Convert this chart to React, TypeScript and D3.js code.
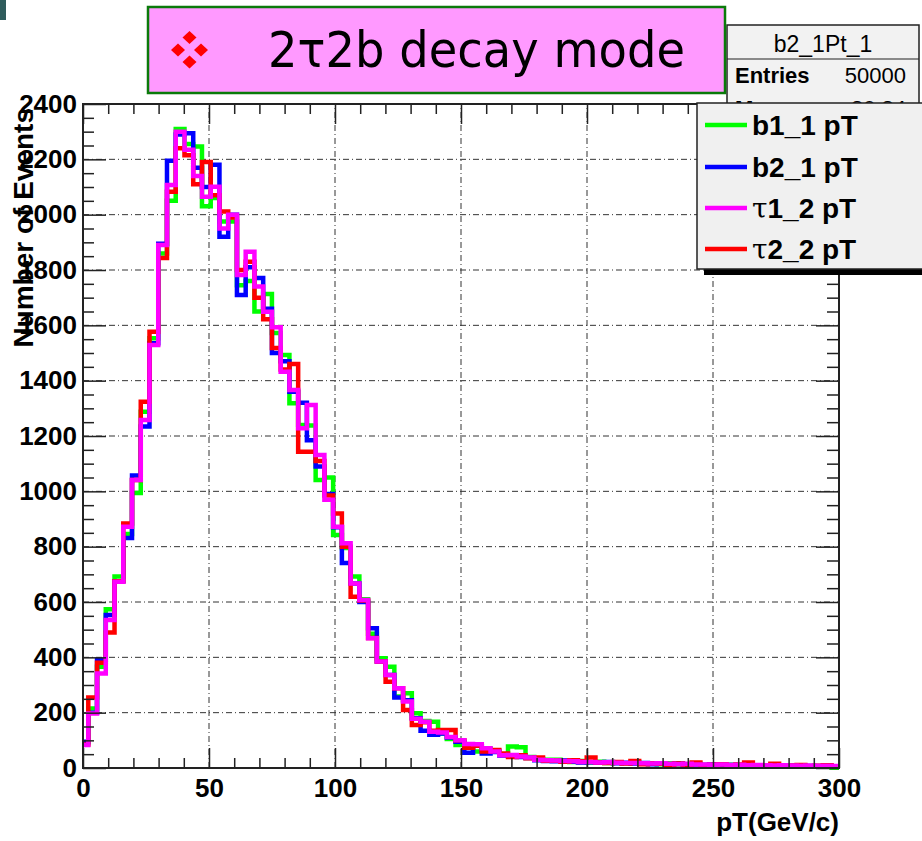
import * as d3 from "d3";
import { useRef, useEffect } from "react";

// histogram binning (GeV)
const binWidth = 3.47;
const firstEdge = -1.37;

// bin contents
const b1Values = [90, 215, 366, 574, 692, 846, 994, 1288, 1553, 1860, 2050, 2310, 2255, 2246, 2030, 2060, 1975, 1975, 1745, 1760, 1650, 1713, 1572, 1493, 1318, 1240, 1238, 1041, 1050, 842, 795, 692, 610, 485, 397, 366, 258, 270, 198, 170, 167, 125, 105, 83, 85, 60, 70, 62, 50, 78, 75, 40, 33, 30,
  30, 26, 22, 25, 20, 23, 18, 20, 17, 19, 15, 16, 14, 17, 13, 12, 15, 11, 12, 10, 12, 9, 11, 8, 10, 9, 7, 9, 8, 6, 7, 5, 0];
const b2Values = [95, 200, 390, 553, 675, 831, 1057, 1234, 1535, 1895, 2195, 2290, 2294, 2170, 2100, 2180, 1920, 2000, 1710, 1810, 1771, 1660, 1500, 1470, 1360, 1320, 1185, 1090, 990, 870, 741, 667, 600, 505, 385, 336, 255, 245, 180, 135, 120, 125, 110, 95, 55, 80, 52, 58, 45, 44, 40, 36, 28, 25,
  24, 27, 23, 20, 21, 19, 22, 17, 19, 16, 18, 14, 15, 14, 16, 12, 13, 11, 13, 10, 11, 10, 9, 10, 8, 9, 8, 7, 8, 7, 6, 7, 6];
const tau1Values = [83, 197, 342, 535, 673, 872, 1041, 1258, 1529, 1890, 2107, 2300, 2235, 2140, 2065, 2101, 1950, 2000, 1782, 1866, 1740, 1649, 1593, 1432, 1366, 1228, 1312, 1131, 970, 872, 812, 667, 607, 469, 385, 336, 288, 240, 178, 167, 131, 128, 112, 100, 87, 86, 71, 60, 46, 47, 42, 38, 30, 28,
  27, 25, 24, 22, 22, 20, 21, 19, 18, 18, 17, 16, 17, 15, 14, 15, 13, 13, 12, 13, 11, 12, 10, 11, 10, 9, 10, 9, 8, 9, 8, 8, 7];
const tau2Values = [85, 255, 380, 490, 675, 884, 1041, 1324, 1577, 1843, 2083, 2240, 2215, 2110, 2190, 2070, 2011, 1990, 1800, 1830, 1700, 1622, 1518, 1440, 1460, 1143, 1143, 1110, 985, 920, 800, 619, 605, 470, 385, 312, 288, 210, 155, 165, 135, 137, 137, 100, 73, 80, 60, 65, 52, 40, 46, 35, 38, 26,
  26, 23, 28, 24, 38, 20, 18, 22, 16, 25, 14, 17, 15, 12, 16, 11, 20, 8, 12, 14, 9, 13, 20, 8, 10, 15, 7, 9, 11, 6, 8, 10, 5];

const seriesNames = ["b1_1 pT", "b2_1 pT", "τ1_2 pT", "τ2_2 pT"];
const seriesColors = ["#00ff00", "#0000ff", "#ff00ff", "#ff0000"];
const seriesData = [b1Values, b2Values, tau1Values, tau2Values];
const drawOrder = [0, 1, 3, 2];

const xTicks = [0, 50, 100, 150, 200, 250, 300];
const yTicks = [0, 200, 400, 600, 800, 1000, 1200, 1400, 1600, 1800, 2000, 2200, 2400];
const xMinorTicks = d3.range(0, 301, 10).filter((v) => v % 50 !== 0);
const yMinorTicks = d3.range(0, 2401, 50).filter((v) => v % 200 !== 0);

const font = "'Liberation Sans', Arial, sans-serif";

export default function App() {
  const svgRef: any = useRef();

  useEffect(() => {
    const w = 922;
    const h = 841;
    const svg = d3.select(svgRef.current).attr("width", w).attr("height", h);
    svg.selectAll("*").remove();

    const xScale = d3.scaleLinear().domain([0, 300]).range([83, 839]);
    const yScale = d3.scaleLinear().domain([0, 2400]).range([768, 104]);
    const [x0, x1] = xScale.range();
    const [y0, y1] = yScale.range();

    // corner mark of the slide
    svg.append("rect").attr("x", 0).attr("y", 0).attr("width", 6).attr("height", 20).attr("fill", "#2f5c5c");

    //grid
    const grid = svg.append("g").attr("stroke", "#333").attr("stroke-width", 1).attr("stroke-dasharray", "6,3,1,3");
    grid.selectAll(".gx").data(xTicks.slice(1, -1)).join("line")
      .attr("x1", (d) => xScale(d)).attr("x2", (d) => xScale(d))
      .attr("y1", y0).attr("y2", y1);
    grid.selectAll(".gy").data(yTicks.slice(1, -1)).join("line")
      .attr("y1", (d) => yScale(d)).attr("y2", (d) => yScale(d))
      .attr("x1", x0).attr("x2", x1);

    //histograms
    svg.append("clipPath").attr("id", "frameClip").append("rect")
      .attr("x", x0).attr("y", y1).attr("width", x1 - x0).attr("height", y0 - y1 + 2);
    const stepLine = d3.line<[number, number]>()
      .x((d) => xScale(d[0]))
      .y((d) => yScale(d[1]))
      .curve(d3.curveStepAfter);
    const hists = svg.append("g").attr("clip-path", "url(#frameClip)");
    drawOrder.forEach((s) => {
      const vals = seriesData[s];
      const pts: [number, number][] = vals.map((v, i) => [Math.max(0, firstEdge + i * binWidth), v]);
      pts.push([300, vals[vals.length - 1]]);
      hists.append("path")
        .attr("d", stepLine(pts))
        .attr("fill", "none")
        .attr("stroke", seriesColors[s])
        .attr("stroke-width", 4.5)
        .attr("stroke-linejoin", "miter");
    });

    //axes
    const styleAxis = (g: any) => {
      g.select(".domain").remove();
      g.selectAll("line").attr("stroke", "#222").attr("stroke-width", 1.5);
      g.selectAll("text").attr("font-family", font).attr("font-size", 26).attr("font-weight", "bold").attr("fill", "#000");
    };
    svg.append("g").attr("transform", `translate(0,${y0})`)
      .call(d3.axisBottom(xScale).tickValues(xTicks).tickSize(-20).tickPadding(11).tickFormat(d3.format("d")))
      .call(styleAxis);
    svg.append("g").attr("transform", `translate(0,${y0})`)
      .call(d3.axisBottom(xScale).tickValues(xMinorTicks).tickSize(-10).tickFormat(() => ""))
      .call(styleAxis);
    svg.append("g").attr("transform", `translate(0,${y1})`)
      .call(d3.axisTop(xScale).tickValues(xTicks).tickSize(-20).tickFormat(() => ""))
      .call(styleAxis);
    svg.append("g").attr("transform", `translate(0,${y1})`)
      .call(d3.axisTop(xScale).tickValues(xMinorTicks).tickSize(-10).tickFormat(() => ""))
      .call(styleAxis);
    svg.append("g").attr("transform", `translate(${x0},0)`)
      .call(d3.axisLeft(yScale).tickValues(yTicks).tickSize(-23).tickPadding(6).tickFormat(d3.format("d")))
      .call(styleAxis);
    svg.append("g").attr("transform", `translate(${x0},0)`)
      .call(d3.axisLeft(yScale).tickValues(yMinorTicks).tickSize(-11).tickFormat(() => ""))
      .call(styleAxis);
    svg.append("g").attr("transform", `translate(${x1},0)`)
      .call(d3.axisRight(yScale).tickValues(yTicks).tickSize(-23).tickFormat(() => ""))
      .call(styleAxis);
    svg.append("g").attr("transform", `translate(${x1},0)`)
      .call(d3.axisRight(yScale).tickValues(yMinorTicks).tickSize(-12).tickFormat(() => ""))
      .call(styleAxis);

    svg.append("rect")
      .attr("x", x0).attr("y", y1).attr("width", x1 - x0).attr("height", y0 - y1)
      .attr("fill", "none").attr("stroke", "#222").attr("stroke-width", 2);

    //axis titles
    svg.append("text")
      .attr("x", x1).attr("y", 831).attr("text-anchor", "end")
      .attr("font-family", font).attr("font-size", 26).attr("font-weight", "bold")
      .text("pT(GeV/c)");
    svg.append("text")
      .attr("transform", `translate(33,108) rotate(-90)`).attr("text-anchor", "end")
      .attr("font-family", font).attr("font-size", 28).attr("font-weight", "bold")
      .text("Number of Events");

    //stats box (its lower rows sit under the legend)
    svg.append("clipPath").attr("id", "statsClip").append("rect")
      .attr("x", 727).attr("y", 25).attr("width", 192).attr("height", 78);
    const stats = svg.append("g");
    stats.append("rect").attr("x", 727).attr("y", 25).attr("width", 192).attr("height", 110)
      .attr("fill", "#f2f2f2").attr("stroke", "#222").attr("stroke-width", 1.5);
    stats.append("line").attr("x1", 727).attr("x2", 919).attr("y1", 59).attr("y2", 59).attr("stroke", "#222");
    stats.append("text").attr("x", 823).attr("y", 52).attr("text-anchor", "middle")
      .attr("font-family", font).attr("font-size", 23).text("b2_1Pt_1");
    stats.append("text").attr("x", 735).attr("y", 83)
      .attr("font-family", font).attr("font-size", 22).attr("font-weight", "bold").text("Entries");
    stats.append("text").attr("x", 906).attr("y", 83).attr("text-anchor", "end")
      .attr("font-family", font).attr("font-size", 22).text("50000");
    const hidden = stats.append("g").attr("clip-path", "url(#statsClip)");
    hidden.append("text").attr("x", 735).attr("y", 116)
      .attr("font-family", font).attr("font-size", 22).attr("font-weight", "bold").text("Mean");
    hidden.append("text").attr("x", 906).attr("y", 116).attr("text-anchor", "end")
      .attr("font-family", font).attr("font-size", 22).text("80.84");

    //title box
    svg.append("rect").attr("x", 148).attr("y", 7).attr("width", 577).attr("height", 86)
      .attr("fill", "#ff99ff").attr("stroke", "#0a7a0a").attr("stroke-width", 2.5);
    const diamonds = [[189.5, 37.5], [178, 50], [201, 50], [189.5, 62]];
    svg.append("g").selectAll("path").data(diamonds).join("path")
      .attr("d", (d) => `M${d[0]},${d[1] - 6.5} L${d[0] + 7},${d[1]} L${d[0]},${d[1] + 6.5} L${d[0] - 7},${d[1]} Z`)
      .attr("fill", "#ff0000");
    svg.append("text").attr("x", 268).attr("y", 67)
      .attr("font-family", "'DejaVu Sans', sans-serif").attr("font-size", 50)
      .attr("textLength", 417).attr("lengthAdjust", "spacingAndGlyphs")
      .attr("fill", "#000")
      .text("2τ2b decay mode");

    //legend
    const legend = svg.append("g");
    legend.append("rect").attr("x", 704).attr("y", 109).attr("width", 230).attr("height", 166).attr("fill", "#000");
    legend.append("rect").attr("x", 697).attr("y", 103).attr("width", 230).attr("height", 166)
      .attr("fill", "#f0f0f0").attr("stroke", "#222").attr("stroke-width", 1.5);
    const rowY = [125, 167, 208, 249];
    seriesNames.forEach((name, i) => {
      legend.append("line").attr("x1", 705).attr("x2", 747).attr("y1", rowY[i]).attr("y2", rowY[i])
        .attr("stroke", seriesColors[i]).attr("stroke-width", 4.5);
      const t = legend.append("text").attr("x", 752).attr("y", rowY[i] + 10)
        .attr("font-family", font).attr("font-size", 28).attr("font-weight", "bold");
      if (name.startsWith("τ")) {
        t.append("tspan").attr("font-family", "'DejaVu Serif', serif").attr("font-weight", "normal").text("τ");
        t.append("tspan").text(name.slice(1));
      } else {
        t.text(name);
      }
    });
  }, []);

  return (
    <div style={{ position: "absolute", left: 0, top: 0 }}>
      <svg ref={svgRef}></svg>
    </div>
  );
}
